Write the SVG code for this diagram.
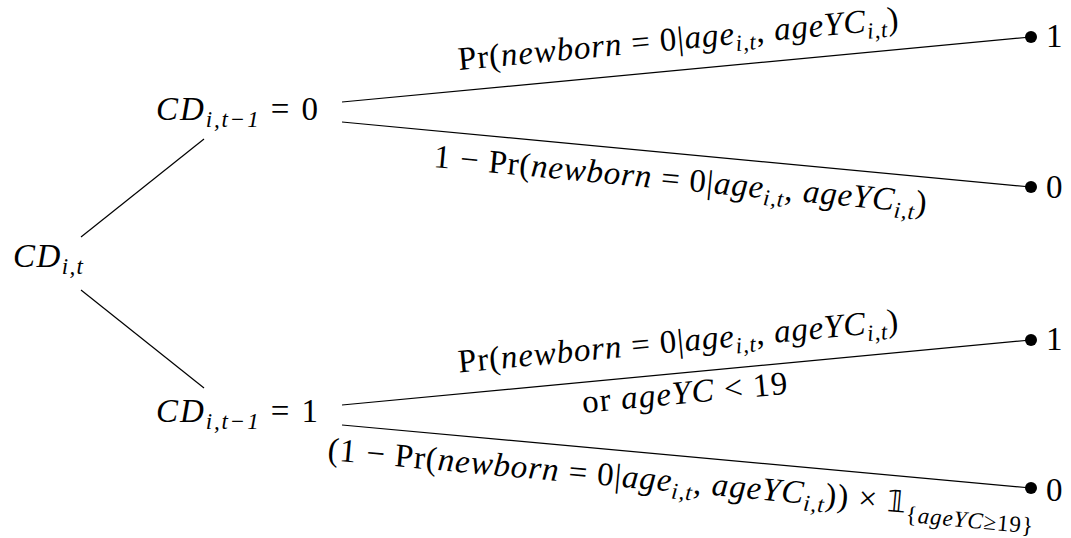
<svg xmlns="http://www.w3.org/2000/svg" width="1071" height="538" viewBox="0 0 1071 538">
<style>
text{font-family:"Liberation Serif","Times New Roman",serif;font-size:33px;fill:#000}
.i{font-style:italic}
.s{font-size:23px;font-style:italic}
.su{font-size:23px}
.bb{font-family:"DejaVu Sans","DejaVu Serif",sans-serif;font-style:normal;font-size:30px}
line{stroke:#000;stroke-width:1.2}
.dot{fill:#000}
</style>
<g id="connectors">
<line x1="81" y1="237" x2="204" y2="139"/>
<line x1="81" y1="290" x2="204" y2="388"/>
<line x1="342" y1="102" x2="1031" y2="37"/>
<line x1="342" y1="122" x2="1031" y2="187"/>
<line x1="342" y1="405" x2="1031" y2="340"/>
<line x1="342" y1="425" x2="1031" y2="488"/>
</g>
<g id="edge-labels">
<text transform="translate(459,70) rotate(-5.34)" textLength="442" lengthAdjust="spacing">Pr(<tspan class="i">newborn</tspan> = 0|<tspan class="i">age</tspan><tspan class="s" dy="7">i,t</tspan><tspan dy="-7">, </tspan><tspan class="i">ageYC</tspan><tspan class="s" dy="7">i,t</tspan><tspan dy="-7">)</tspan></text>
<text transform="translate(433,167) rotate(5.38)" textLength="495" lengthAdjust="spacing">1 − Pr(<tspan class="i">newborn</tspan> = 0|<tspan class="i">age</tspan><tspan class="s" dy="7">i,t</tspan><tspan dy="-7">, </tspan><tspan class="i">ageYC</tspan><tspan class="s" dy="7">i,t</tspan><tspan dy="-7">)</tspan></text>
<text transform="translate(459,372.5) rotate(-5.38)" textLength="442" lengthAdjust="spacing">Pr(<tspan class="i">newborn</tspan> = 0|<tspan class="i">age</tspan><tspan class="s" dy="7">i,t</tspan><tspan dy="-7">, </tspan><tspan class="i">ageYC</tspan><tspan class="s" dy="7">i,t</tspan><tspan dy="-7">)</tspan></text>
<text transform="translate(583,413) rotate(-5.38)" textLength="206" lengthAdjust="spacing">or <tspan class="i">ageYC</tspan> &lt; 19</text>
<text transform="translate(327,460) rotate(5.22)" textLength="709" lengthAdjust="spacing">(1 − Pr(<tspan class="i">newborn</tspan> = 0|<tspan class="i">age</tspan><tspan class="s" dy="7">i,t</tspan><tspan dy="-7">, </tspan><tspan class="i">ageYC</tspan><tspan class="s" dy="7">i,t</tspan><tspan dy="-7">)) × </tspan><tspan class="bb">𝟙</tspan><tspan class="su" dy="9">{</tspan><tspan class="s">ageYC</tspan><tspan class="su">≥19}</tspan></text>
</g>
<g id="root">
<text x="13" y="267" textLength="70" lengthAdjust="spacing"><tspan class="i">CD</tspan><tspan class="s" dy="7">i,t</tspan></text>
</g>
<g id="node-cd0">
<text x="156" y="120" textLength="162" lengthAdjust="spacing"><tspan class="i">CD</tspan><tspan class="s" dy="7">i,t−1</tspan><tspan dy="-7"> = 0</tspan></text>
</g>
<g id="node-cd1">
<text x="156" y="422" textLength="162" lengthAdjust="spacing"><tspan class="i">CD</tspan><tspan class="s" dy="7">i,t−1</tspan><tspan dy="-7"> = 1</tspan></text>
</g>
<g id="leaf-a">
<circle class="dot" cx="1031" cy="37" r="6"/>
<text x="1046" y="47">1</text>
</g>
<g id="leaf-b">
<circle class="dot" cx="1031" cy="187" r="6"/>
<text x="1046" y="198">0</text>
</g>
<g id="leaf-c">
<circle class="dot" cx="1031" cy="340" r="6"/>
<text x="1046" y="350">1</text>
</g>
<g id="leaf-d">
<circle class="dot" cx="1031" cy="488" r="6"/>
<text x="1046" y="501">0</text>
</g>
</svg>
